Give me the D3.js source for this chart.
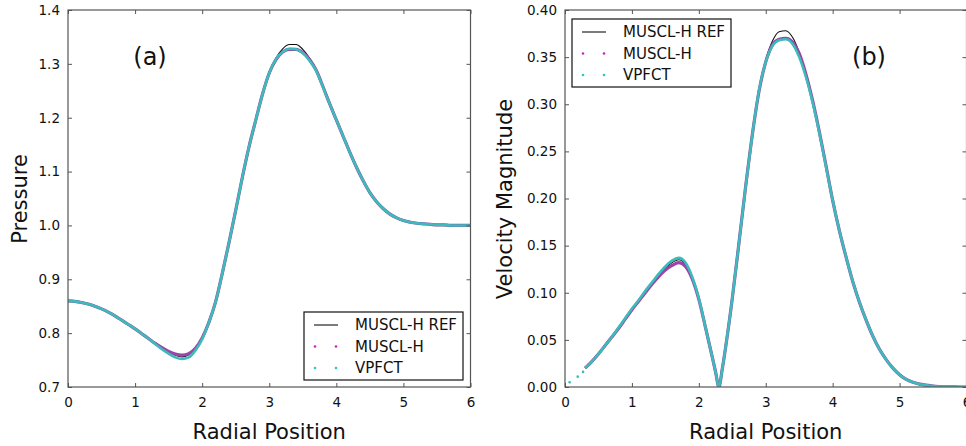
<!DOCTYPE html>
<html>
<head>
<meta charset="utf-8">
<script src="https://cdn.jsdelivr.net/npm/d3@7"></script>
<style>
  body { margin: 0; background: #fff; }
  svg { display: block; font-family: "DejaVu Sans", sans-serif; }
</style>
</head>
<body>
<svg id="chart" width="966" height="446"></svg>
<script>
// DATA ////////////////////////////////////////////////////////////////////////

const seriesNames = ["MUSCL-H REF", "MUSCL-H", "VPFCT"];
const xTicks = [0, 1, 2, 3, 4, 5, 6];
const pressureTicks = [0.7, 0.8, 0.9, 1.0, 1.1, 1.2, 1.3, 1.4];
const velocityTicks = [0.00, 0.05, 0.10, 0.15, 0.20, 0.25, 0.30, 0.35, 0.40];

// panel (a): pressure
const pressureR = [
  0.0, 0.1, 0.2, 0.3, 0.4, 0.5, 0.6, 0.7, 0.8, 0.9,
  1.0, 1.1, 1.2, 1.3, 1.4, 1.5, 1.6, 1.7, 1.8, 1.9,
  2.0, 2.1, 2.2, 2.3, 2.4, 2.5, 2.6, 2.7, 2.8, 2.9,
  3.0, 3.1, 3.2, 3.3, 3.4, 3.5, 3.6, 3.7, 3.8, 3.9,
  4.0, 4.1, 4.2, 4.3, 4.4, 4.5, 4.6, 4.7, 4.8, 4.9,
  5.0, 5.1, 5.2, 5.3, 5.4, 5.5, 5.6, 5.7, 5.8, 5.9, 6.0
];
const pressureRef = [
  0.860, 0.859, 0.857, 0.854, 0.850, 0.845, 0.839, 0.832, 0.824, 0.816,
  0.808, 0.799, 0.790, 0.781, 0.772, 0.765, 0.759, 0.756, 0.760, 0.771,
  0.790, 0.820, 0.858, 0.911, 0.968, 1.028, 1.090, 1.147, 1.196, 1.244,
  1.284, 1.311, 1.328, 1.336, 1.336, 1.327, 1.311, 1.289, 1.258, 1.226,
  1.196, 1.166, 1.136, 1.108, 1.083, 1.061, 1.044, 1.031, 1.021, 1.014,
  1.009, 1.006, 1.004, 1.003, 1.002, 1.001, 1.001, 1.000, 1.000, 1.000, 1.000
];
const pressureMuscl = [
  0.860, 0.859, 0.857, 0.854, 0.850, 0.845, 0.839, 0.832, 0.824, 0.816,
  0.808, 0.799, 0.790, 0.781, 0.773, 0.766, 0.761, 0.759, 0.762, 0.772,
  0.791, 0.820, 0.858, 0.911, 0.968, 1.028, 1.090, 1.147, 1.196, 1.244,
  1.283, 1.308, 1.322, 1.327, 1.327, 1.321, 1.308, 1.288, 1.258, 1.226,
  1.196, 1.166, 1.136, 1.108, 1.083, 1.061, 1.044, 1.031, 1.021, 1.014,
  1.009, 1.006, 1.004, 1.003, 1.002, 1.001, 1.001, 1.000, 1.000, 1.000, 1.000
];
const pressureVpfct = [
  0.860, 0.859, 0.857, 0.854, 0.850, 0.845, 0.839, 0.832, 0.824, 0.816,
  0.808, 0.799, 0.790, 0.780, 0.770, 0.762, 0.755, 0.752, 0.755, 0.768,
  0.789, 0.820, 0.858, 0.911, 0.968, 1.028, 1.090, 1.147, 1.196, 1.244,
  1.283, 1.309, 1.322, 1.328, 1.327, 1.320, 1.306, 1.287, 1.257, 1.226,
  1.196, 1.166, 1.136, 1.108, 1.083, 1.061, 1.044, 1.031, 1.021, 1.014,
  1.009, 1.006, 1.004, 1.003, 1.002, 1.001, 1.001, 1.000, 1.000, 1.000, 1.000
];

// panel (b): velocity magnitude
const velocityR = [
  0.3, 0.4, 0.5, 0.6, 0.7, 0.8, 0.9, 1.0, 1.1, 1.2,
  1.3, 1.4, 1.5, 1.6, 1.7, 1.8, 1.9, 2.0, 2.1, 2.2,
  2.25, 2.3, 2.35,
  2.4, 2.5, 2.6, 2.7, 2.8, 2.9, 3.0, 3.1, 3.2, 3.3, 3.4, 3.5, 3.6, 3.7, 3.8, 3.9,
  4.0, 4.1, 4.2, 4.3, 4.4, 4.5, 4.6, 4.7, 4.8, 4.9,
  5.0, 5.1, 5.2, 5.3, 5.4, 5.5, 5.6, 5.7, 5.8, 5.9, 6.0
];
const velocityRef = [
  0.020, 0.027, 0.035, 0.044, 0.053, 0.062, 0.072, 0.082, 0.091, 0.101,
  0.110, 0.119, 0.126, 0.132, 0.135, 0.130, 0.116, 0.093, 0.063, 0.032,
  0.016, 0.000, 0.019,
  0.042, 0.094, 0.153, 0.213, 0.268, 0.315, 0.347, 0.367, 0.377, 0.378, 0.371, 0.355, 0.331, 0.303, 0.270, 0.234,
  0.198, 0.166, 0.138, 0.112, 0.090, 0.071, 0.054, 0.040, 0.029, 0.020,
  0.013, 0.008, 0.005, 0.003, 0.002, 0.001, 0.0005, 0.0002, 0.0001, 0.0, 0.0
];
const velocityMuscl = [
  0.020, 0.027, 0.035, 0.044, 0.053, 0.062, 0.072, 0.082, 0.091, 0.100,
  0.109, 0.117, 0.124, 0.129, 0.132, 0.128, 0.115, 0.093, 0.063, 0.032,
  0.016, 0.000, 0.019,
  0.042, 0.094, 0.153, 0.213, 0.268, 0.314, 0.345, 0.363, 0.369, 0.370, 0.366, 0.354, 0.332, 0.304, 0.271, 0.235,
  0.198, 0.166, 0.138, 0.112, 0.090, 0.071, 0.054, 0.040, 0.029, 0.020,
  0.013, 0.008, 0.005, 0.003, 0.002, 0.001, 0.0005, 0.0002, 0.0001, 0.0, 0.0
];
const velocityVpfct = [
  0.020, 0.027, 0.035, 0.044, 0.053, 0.063, 0.073, 0.083, 0.092, 0.102,
  0.111, 0.120, 0.128, 0.134, 0.137, 0.132, 0.117, 0.094, 0.063, 0.032,
  0.016, 0.000, 0.019,
  0.042, 0.094, 0.153, 0.213, 0.268, 0.315, 0.345, 0.362, 0.368, 0.369, 0.364, 0.350, 0.329, 0.302, 0.270, 0.234,
  0.198, 0.166, 0.138, 0.112, 0.090, 0.071, 0.054, 0.040, 0.029, 0.020,
  0.013, 0.008, 0.005, 0.003, 0.002, 0.001, 0.0005, 0.0002, 0.0001, 0.0, 0.0
];
// a few isolated VPFCT cells close to the axis
const velocityVpfctNearR = [0.07, 0.19, 0.27];
const velocityVpfctNear = [0.005, 0.011, 0.016];

// STYLE ///////////////////////////////////////////////////////////////////////

const colRef = "#111";
const colMuscl = "#9a45a8";
const colVpfct = "#3dbaba";
const dotMuscl = "#cc22cc";
const dotVpfct = "#22cccc";
const frameCol = "#555";

const svg = d3.select("#chart");

function drawPanel(p) {
  const x = d3.scaleLinear().domain([0, 6]).range([p.left, p.right]);
  const y = d3.scaleLinear().domain(p.yDomain).range([387, 10]);

  const g = svg.append("g");

  const clipId = "clip-" + p.id;
  g.append("clipPath").attr("id", clipId)
    .append("rect")
    .attr("x", p.left).attr("y", 10)
    .attr("width", p.right - p.left).attr("height", 377);

  // curves
  const line = d3.line()
    .x(d => x(d[0]))
    .y(d => y(d[1]))
    .curve(d3.curveMonotoneX);

  const plot = g.append("g").attr("clip-path", `url(#${clipId})`);

  const zipped = (rs, vs) => rs.map((r, i) => [r, vs[i]]);

  plot.append("path")
    .datum(zipped(p.r, p.ref))
    .attr("d", line)
    .attr("fill", "none")
    .attr("stroke", colRef)
    .attr("stroke-width", 1.1);

  plot.append("path")
    .datum(zipped(p.r, p.muscl))
    .attr("d", line)
    .attr("fill", "none")
    .attr("stroke", colMuscl)
    .attr("stroke-width", 3.2);

  plot.append("path")
    .datum(zipped(p.r, p.vpfct))
    .attr("d", line)
    .attr("fill", "none")
    .attr("stroke", colVpfct)
    .attr("stroke-width", 2.6);

  if (p.nearR) {
    plot.selectAll(".near")
      .data(zipped(p.nearR, p.near))
      .enter()
      .append("circle")
      .attr("cx", d => x(d[0]))
      .attr("cy", d => y(d[1]))
      .attr("r", 1.3)
      .attr("fill", colVpfct);
  }

  // axes: ticks pointing inward, mirrored on top and right
  const axB = g.append("g").attr("transform", "translate(0,387)")
    .call(d3.axisBottom(x).tickValues(xTicks).tickSize(-4).tickPadding(10).tickFormat(d3.format("d")));
  const axT = g.append("g").attr("transform", "translate(0,10)")
    .call(d3.axisTop(x).tickValues(xTicks).tickSize(-4).tickFormat(""));
  const axL = g.append("g").attr("transform", `translate(${p.left},0)`)
    .call(d3.axisLeft(y).tickValues(p.yTicks).tickSize(-4).tickPadding(8).tickFormat(d3.format(p.yFormat)));
  const axR = g.append("g").attr("transform", `translate(${p.right},0)`)
    .call(d3.axisRight(y).tickValues(p.yTicks).tickSize(-4).tickFormat(""));

  [axB, axT, axL, axR].forEach(a => {
    a.select(".domain").remove();
    a.selectAll(".tick line").attr("stroke", frameCol);
    a.selectAll("text").attr("fill", "#111").style("font-size", "13.5px").style("font-family", "DejaVu Sans, sans-serif");
  });

  g.append("rect")
    .attr("x", p.left).attr("y", 10)
    .attr("width", p.right - p.left).attr("height", 377)
    .attr("fill", "none")
    .attr("stroke", frameCol)
    .attr("stroke-width", 1.2);

  // titles
  g.append("text")
    .attr("x", (p.left + p.right) / 2)
    .attr("y", 439)
    .attr("text-anchor", "middle")
    .style("font-size", "21px")
    .attr("fill", "#111")
    .text("Radial Position");

  g.append("text")
    .attr("transform", `translate(${p.yTitleX},199) rotate(-90)`)
    .attr("text-anchor", "middle")
    .style("font-size", "21px")
    .attr("fill", "#111")
    .text(p.yTitle);

  g.append("text")
    .attr("x", p.tagX)
    .attr("y", 65)
    .attr("text-anchor", "middle")
    .style("font-size", "24px")
    .attr("fill", "#111")
    .text(p.tag);

  // legend
  const lg = g.append("g").attr("transform", `translate(${p.legendX},${p.legendY})`);
  lg.append("rect")
    .attr("width", 159).attr("height", 68)
    .attr("fill", "#fff")
    .attr("stroke", "#111")
    .attr("stroke-width", 1.2);

  const rows = lg.selectAll(".row")
    .data(seriesNames)
    .enter()
    .append("g")
    .attr("transform", (d, i) => `translate(0,${13 + i * 21.5})`);

  rows.filter((d, i) => i === 0).append("line")
    .attr("x1", 10).attr("x2", 34)
    .attr("stroke", colRef).attr("stroke-width", 1.1);

  rows.filter((d, i) => i > 0).each(function(d, i) {
    d3.select(this).selectAll("circle")
      .data([11, 32])
      .enter()
      .append("circle")
      .attr("cx", c => c)
      .attr("r", 1.3)
      .attr("fill", i === 0 ? dotMuscl : dotVpfct);
  });

  rows.append("text")
    .attr("x", 51)
    .attr("dy", "0.36em")
    .style("font-size", "15px")
    .attr("fill", "#111")
    .text(d => d);
}

drawPanel({
  id: "a",
  left: 68, right: 470.5,
  yDomain: [0.7, 1.4], yTicks: pressureTicks, yFormat: ".1f",
  yTitle: "Pressure", yTitleX: 27,
  tag: "(a)", tagX: 150,
  legendX: 304, legendY: 312,
  r: pressureR, ref: pressureRef, muscl: pressureMuscl, vpfct: pressureVpfct
});

drawPanel({
  id: "b",
  left: 565, right: 966.5,
  yDomain: [0, 0.4], yTicks: velocityTicks, yFormat: ".2f",
  yTitle: "Velocity Magnitude", yTitleX: 512,
  tag: "(b)", tagX: 869,
  legendX: 572, legendY: 19,
  r: velocityR, ref: velocityRef, muscl: velocityMuscl, vpfct: velocityVpfct,
  nearR: velocityVpfctNearR, near: velocityVpfctNear
});
</script>
</body>
</html>
